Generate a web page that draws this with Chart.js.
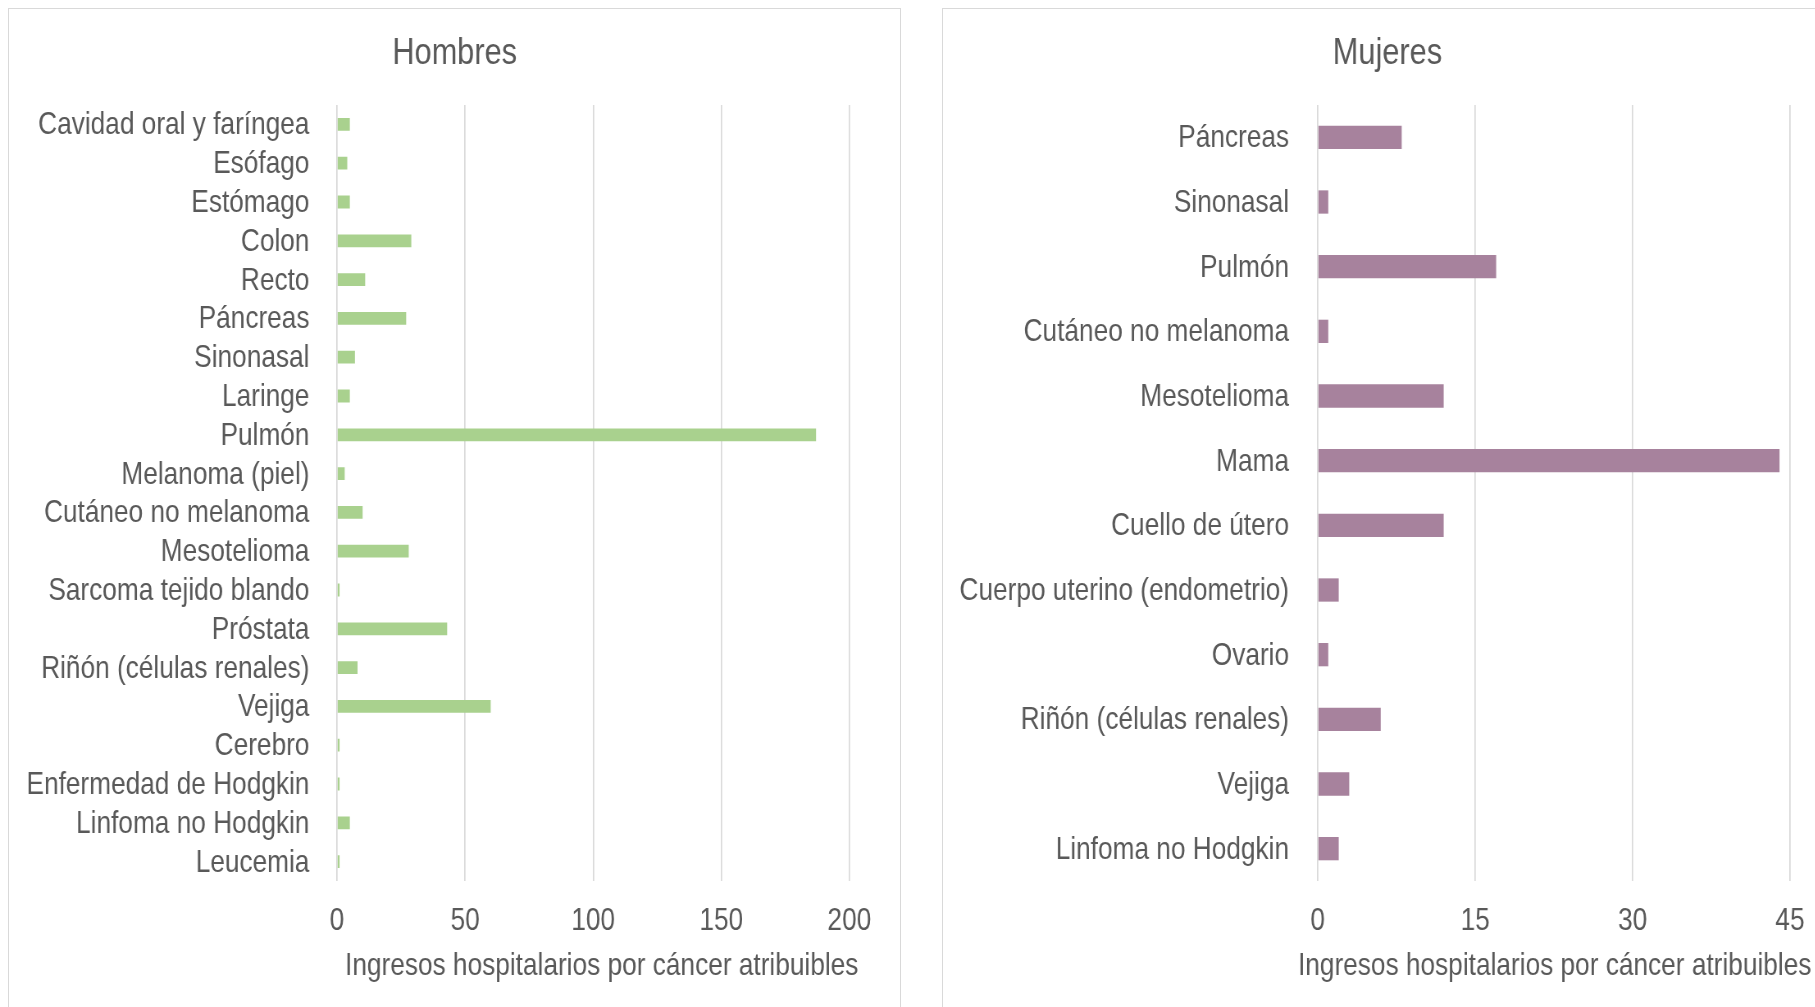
<!DOCTYPE html>
<html lang="es">
<head>
<meta charset="utf-8">
<title>Ingresos hospitalarios por cáncer atribuibles</title>
<script src="https://cdn.jsdelivr.net/npm/chart.js@4.4.1/dist/chart.umd.min.js"></script>
<style>
  html, body { margin: 0; padding: 0; background: #fff; width: 1815px; height: 1007px; overflow: hidden; }
  .panel { position: absolute; top: 8px; height: 1010px; border: 1px solid #d9d9d9; overflow: hidden; background: #fff; }
  /* the reference text is narrow, so each chart is drawn wider and squeezed back */
  .squeeze { transform-origin: 0 0; transform: scaleX(0.82); }
</style>
</head>
<body>
<div class="panel" style="left:8px; width:891px;">
  <div class="squeeze"><canvas id="chartMen" width="1087" height="998" style="width:1087px;height:998px"></canvas></div>
</div>
<div class="panel" style="left:942px; width:889px;">
  <div class="squeeze"><canvas id="chartWomen" width="1084" height="998" style="width:1084px;height:998px"></canvas></div>
</div>

<script>
const menCategories = [
    'Cavidad oral y faríngea', 'Esófago', 'Estómago', 'Colon', 'Recto', 'Páncreas',
    'Sinonasal', 'Laringe', 'Pulmón', 'Melanoma (piel)', 'Cutáneo no melanoma',
    'Mesotelioma', 'Sarcoma tejido blando', 'Próstata', 'Riñón (células renales)',
    'Vejiga', 'Cerebro', 'Enfermedad de Hodgkin', 'Linfoma no Hodgkin', 'Leucemia'
];
const menValues = [5, 4, 5, 29, 11, 27, 7, 5, 187, 3, 10, 28, 1, 43, 8, 60, 1, 1, 5, 1];
const menTicks = [0, 50, 100, 150, 200];

const womenCategories = [
    'Páncreas', 'Sinonasal', 'Pulmón', 'Cutáneo no melanoma', 'Mesotelioma', 'Mama',
    'Cuello de útero', 'Cuerpo uterino (endometrio)', 'Ovario', 'Riñón (células renales)',
    'Vejiga', 'Linfoma no Hodgkin'
];
const womenValues = [8, 1, 17, 1, 12, 44, 12, 2, 1, 6, 3, 2];
const womenTicks = [0, 15, 30, 45];

const axisTitle = 'Ingresos hospitalarios por cáncer atribuibles';

const TEXT = '#595959';
const GRID = '#d9d9d9';
const FONT = "'Liberation Sans', Arial, sans-serif";
const FONT_SIZE = 32;

// the x axis title is wider than the plot; Chart.js would shrink it to fit, so draw it here
const axisCaption = {
    id: 'axisCaption',
    afterDraw(chart, args, opts) {
        const { ctx, chartArea } = chart;
        ctx.save();
        ctx.font = `${FONT_SIZE}px ${FONT}`;
        ctx.fillStyle = TEXT;
        ctx.textAlign = 'center';
        ctx.textBaseline = 'middle';
        ctx.fillText(opts.text, (chartArea.left + chartArea.right) / 2 + opts.dx, chartArea.bottom + opts.dy);
        ctx.restore();
    },
};

function drawPanel(id, title, categories, values, ticks, color, yWidth, labelPad, rightPad, barPct, captionDx) {
    const ctx = document.getElementById(id).getContext('2d');
    return new Chart(ctx, {
        type: 'bar',
        plugins: [axisCaption],
        data: {
            labels: categories,
            datasets: [{
                data: values,
                backgroundColor: color,
                borderWidth: 0,
                barPercentage: barPct,
                categoryPercentage: 1,
            }],
        },
        options: {
            indexAxis: 'y',
            responsive: false,
            animation: false,
            devicePixelRatio: 1,
            layout: { padding: { left: 0, right: 0, top: 0, bottom: 45.4 } },
            plugins: {
                legend: { display: false },
                tooltip: { enabled: false },
                title: {
                    display: true,
                    text: title,
                    color: TEXT,
                    font: { family: FONT, size: 37.5, weight: 'normal' },
                    padding: { top: 21.8, bottom: 29.2 },
                },
                axisCaption: { text: axisTitle, dx: captionDx, dy: 85.3 },
            },
            scales: {
                x: {
                    type: 'linear',
                    min: ticks[0],
                    max: ticks[ticks.length - 1],
                    afterBuildTicks: (axis) => { axis.ticks = ticks.map((v) => ({ value: v })); },
                    grid: { color: GRID, lineWidth: 1.7, drawTicks: false },
                    border: { display: false },
                    ticks: { color: TEXT, font: { family: FONT, size: FONT_SIZE }, padding: 21.1, maxRotation: 0 },
                },
                y: {
                    grid: { display: false, drawTicks: false },
                    border: { display: false },
                    ticks: {
                        color: TEXT,
                        font: { family: FONT, size: FONT_SIZE },
                        padding: labelPad,
                        labelOffset: 1.2,
                        autoSkip: false,
                    },
                    afterFit: (axis) => { axis.width = yWidth; },
                },
                // empty axis on the right, only keeps the white margin after the plot
                yPad: {
                    axis: 'y',
                    type: 'linear',
                    position: 'right',
                    grid: { display: false, drawTicks: false },
                    border: { display: false },
                    ticks: { display: false },
                    afterFit: (axis) => { axis.width = rightPad; },
                },
            },
        },
    });
}

drawPanel('chartMen', 'Hombres', menCategories, menValues, menTicks, '#A9D18E', 400, 33.6, 62.2, 0.33, 10.4);
drawPanel('chartWomen', 'Mujeres', womenCategories, womenValues, womenTicks, '#A7829D', 457, 35, 51.1, 0.36, 1);
</script>
</body>
</html>
